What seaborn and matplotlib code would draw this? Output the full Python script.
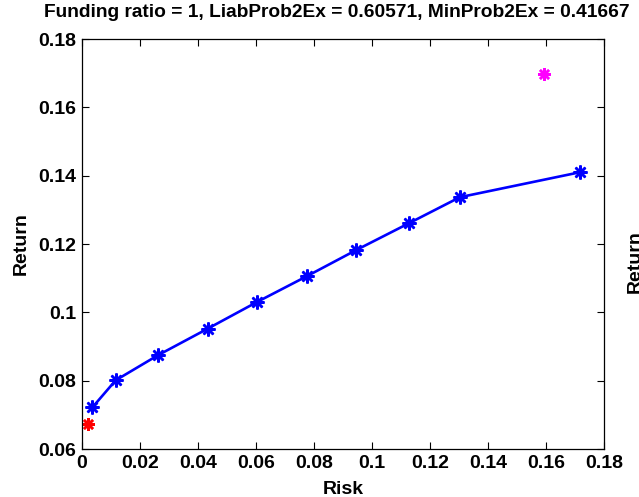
import matplotlib
matplotlib.use("Agg")
import matplotlib.pyplot as plt
import seaborn as sns
import pandas as pd

# Data
risk = [0.0036, 0.0116, 0.0261, 0.0433, 0.0603, 0.0776, 0.0945, 0.1128, 0.1303, 0.1717]
ret = [0.0722, 0.0801, 0.0874, 0.0952, 0.1030, 0.1106, 0.1182, 0.1261, 0.1337, 0.1410]
red_risk = [0.0021]
red_ret = [0.0672]
mag_risk = [0.1594]
mag_ret = [0.1698]
xticks = [0, 0.02, 0.04, 0.06, 0.08, 0.1, 0.12, 0.14, 0.16, 0.18]
xtick_labels = ["0", "0.02", "0.04", "0.06", "0.08", "0.1", "0.12", "0.14", "0.16", "0.18"]
yticks = [0.06, 0.08, 0.1, 0.12, 0.14, 0.16, 0.18]
ytick_labels = ["0.06", "0.08", "0.1", "0.12", "0.14", "0.16", "0.18"]
title = "Funding ratio = 1, LiabProb2Ex = 0.60571, MinProb2Ex = 0.41667"

sns.set_style("ticks")
plt.rcParams["font.family"] = ["Liberation Sans", "DejaVu Sans"]
plt.rcParams["font.weight"] = "bold"
plt.rcParams["text.color"] = "black"
plt.rcParams["axes.labelcolor"] = "black"

fs = 14

fig = plt.figure(figsize=(6.39, 4.97), dpi=100)
ax = fig.add_axes([82 / 639, 1 - 449 / 497, 522 / 639, 410 / 497])

front = pd.DataFrame({"Risk": risk, "Return": ret})
ast = (8, 2, 0)
sns.lineplot(data=front, x="Risk", y="Return", sort=False, ax=ax, color="#0000ff",
             linewidth=1.9, marker=ast, markersize=10, markeredgewidth=1.8,
             markeredgecolor="#0000ff", estimator=None)
sns.lineplot(x=red_risk, y=red_ret, ax=ax, color="#ff0000", linestyle="",
             marker=ast, markersize=9, markeredgewidth=1.8, markeredgecolor="#ff0000",
             estimator=None)
sns.lineplot(x=mag_risk, y=mag_ret, ax=ax, color="#ff00ff", linestyle="",
             marker=ast, markersize=9, markeredgewidth=1.8, markeredgecolor="#ff00ff",
             estimator=None)

ax.set_xlim(0, 0.18)
ax.set_ylim(0.06, 0.18)
ax.set_xticks(xticks)
ax.set_xticklabels(xtick_labels)
ax.set_yticks(yticks)
ax.set_yticklabels(ytick_labels)
ax.tick_params(direction="in", length=5, width=0.8, labelsize=fs, top=True, right=True,
               color="black", labelcolor="black", pad=4)
for lab in ax.get_xticklabels() + ax.get_yticklabels():
    lab.set_fontweight("bold")
for s in ax.spines.values():
    s.set_visible(True)
    s.set_color("black")
    s.set_linewidth(0.9)
ax.set_xlabel("Risk", fontsize=fs, fontweight="bold", labelpad=7)
ax.set_ylabel("Return", fontsize=fs, fontweight="bold", labelpad=6)
ax.set_title(title, fontsize=13.8, fontweight="bold", pad=16, x=(337 - 82) / 522)
ax.grid(False)

# cut-off label of the neighbouring panel at the right edge
fig.text(627 / 639, 1 - 262 / 497, "Return", rotation=90, fontsize=fs, fontweight="bold",
         ha="left", va="center")

fig.savefig("out.png", dpi=100, facecolor="white")
